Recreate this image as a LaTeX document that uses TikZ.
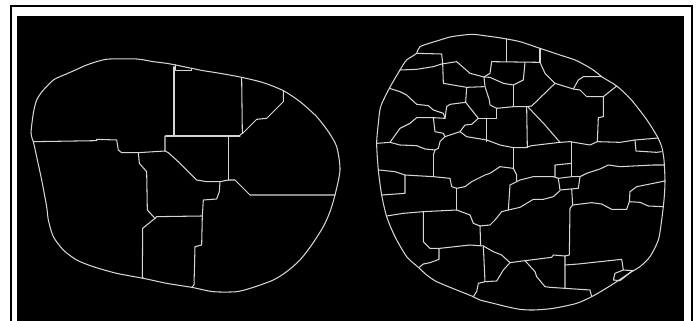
\documentclass[tikz,border=0pt]{standalone}
\definecolor{linegray}{RGB}{214,214,214}
\tikzset{seg/.style={draw=linegray, line width=1.05pt, line join=round, line cap=round},
         outline/.style={draw=linegray, line width=1.05pt, line join=round}}
\begin{document}
\begin{tikzpicture}[x=1pt,y=-1pt]
\useasboundingbox (0,0) rectangle (699,321);
\fill[white] (0,0) rectangle (699,321);
\fill[black] (17,16) rectangle (684,321);
\draw[black, line width=2pt] (11,321) -- (11,6.5) -- (692,6.5) -- (692,321);
% ---------------- left blob (zoom coordinates, 1/3 px) ----------------
\begin{scope}[scale=1/3]
\draw[outline] plot[smooth cycle, tension=0.45] coordinates {
 (215,215) (260,195) (300,182) (330,177) (410,177) (460,185) (500,190) (527,195) (575,205) (610,212)
 (660,220) (725,232) (790,248) (850,272) (900,305) (950,350) (985,395) (1010,440) (1020,510)
 (1005,585) (990,635) (970,680) (935,735) (900,780) (860,815) (820,840) (760,862) (710,875)
 (640,875) (575,862) (500,850) (430,835) (350,820) (280,800) (230,780) (190,750) (160,710)
 (145,660) (140,620) (125,540) (110,470) (100,425) (93,400) (100,340) (110,300) (130,270)
 (160,240) (180,230)};
\draw[seg] (522,200) -- (522,408);
\draw[seg] (527,195) -- (527,212) -- (575,212) -- (575,205);
\draw[seg] (725,232) -- (727,400) -- (720,405);
\draw[seg] (497,408) -- (720,408);
\draw[seg] (850,272) -- (850,305) -- (800,355) -- (770,358) -- (728,400);
\draw[seg] (100,425) -- (290,422) -- (290,418) -- (350,420) -- (355,450) -- (365,458) -- (415,458) -- (495,453) -- (495,408);
\draw[seg] (685,408) -- (685,540);
\draw[seg] (495,453) -- (505,458) -- (540,490) -- (590,540) -- (620,545) -- (660,545) -- (685,540) -- (705,540) -- (750,585) -- (1005,585);
\draw[seg] (415,458) -- (418,490) -- (440,515) -- (442,630) -- (465,655) -- (470,650) -- (605,648);
\draw[seg] (660,545) -- (658,575) -- (650,597) -- (610,600) -- (607,648) -- (605,735) -- (585,740) -- (582,855) -- (575,862);
\draw[seg] (465,655) -- (428,685) -- (427,830) -- (430,835);
\end{scope}
% ---------------- right blob ----------------
\begin{scope}[shift={(360,0)},scale=1/3]
\draw[outline] plot[smooth cycle, tension=0.45] coordinates {
 (335,103) (380,108) (410,112) (440,117) (480,125) (540,145) (600,165) (650,182) (700,210)
 (725,230) (770,258) (810,295) (850,345) (872,377) (892,410) (905,440) (912,480) (915,545) (912,600)
 (905,660) (895,720) (870,770) (840,800) (815,815) (770,845) (730,870) (695,890) (650,910)
 (580,925) (520,930) (480,928) (440,920) (400,910) (360,900) (335,888) (290,870) (230,845)
 (200,825) (175,802) (140,770) (105,710) (80,650) (65,585) (55,510) (50,430) (55,370)
 (62,320) (88,265) (120,210) (140,180) (170,160) (180,140) (240,120) (275,110)};
\draw[seg] (170,160) -- (245,162) -- (248,190) -- (250,250) -- (320,262) -- (372,260);
\draw[seg] (320,262) -- (317,307);
\draw[seg] (120,210) -- (170,208) -- (220,200) -- (245,192) -- (290,185) -- (330,220) -- (372,231) -- (390,232) -- (430,250) -- (460,255) -- (490,240) -- (495,187);
\draw[seg] (440,117) -- (440,185);
\draw[seg] (540,145) -- (540,187);
\draw[seg] (395,185) -- (540,187);
\draw[seg] (395,185) -- (390,220) -- (372,231);
\draw[seg] (372,231) -- (375,260) -- (388,300) -- (390,315) -- (410,325);
\draw[seg] (460,255) -- (460,320);
\draw[seg] (410,325) -- (460,320) -- (500,320);
\draw[seg] (410,325) -- (410,355) -- (380,355) -- (355,355);
\draw[seg] (380,355) -- (380,425);
\draw[seg] (540,187) -- (555,220) -- (585,250) -- (640,267) -- (660,270) -- (680,290) -- (730,290) -- (770,258);
\draw[seg] (640,267) -- (655,240) -- (670,230) -- (725,230);
\draw[seg] (730,290) -- (730,350) -- (715,353) -- (712,425);
\draw[seg] (585,250) -- (515,318) -- (500,320);
\draw[seg] (505,322) -- (555,375) -- (600,427);
\draw[seg] (500,320) -- (502,443);
\draw[seg] (495,443) -- (515,437) -- (600,427) -- (630,425) -- (660,430) -- (690,435) -- (712,425) -- (780,427) -- (825,420) -- (860,417) -- (895,414);
\draw[seg] (825,420) -- (828,453) -- (890,457) -- (904,455);
\draw[seg] (635,425) -- (635,530);
\draw[seg] (585,530) -- (585,495) -- (635,490);
\draw[seg] (660,530) -- (680,520) -- (720,507) -- (745,495) -- (780,500) -- (820,498) -- (880,495) -- (912,495);
\draw[seg] (470,545) -- (480,540) -- (520,530) -- (580,530) -- (595,535) -- (635,530) -- (660,530);
\draw[seg] (595,535) -- (600,570) -- (655,565) -- (660,530);
\draw[seg] (600,572) -- (580,590) -- (550,598) -- (520,598) -- (500,610) -- (480,622) -- (445,630) -- (425,635) -- (405,660) -- (390,675) -- (360,678);
\draw[seg] (635,567) -- (638,615) -- (630,625) -- (628,765) -- (615,768) -- (615,865);
\draw[seg] (638,615) -- (695,608) -- (725,612) -- (755,628) -- (800,628) -- (808,605) -- (840,607) -- (865,618) -- (910,620);
\draw[seg] (808,605) -- (810,575) -- (830,560) -- (880,550) -- (914,543);
\draw[seg] (450,788) -- (495,782) -- (575,772) -- (580,765) -- (615,768);
\draw[seg] (495,782) -- (525,815) -- (530,830) -- (555,860) -- (570,862) -- (615,865) -- (690,870) -- (695,890);
\draw[seg] (615,795) -- (655,792) -- (720,785) -- (785,778) -- (790,810) -- (818,812);
\draw[seg] (790,810) -- (765,820) -- (760,840) -- (780,842) -- (818,812);
\draw[seg] (57,510) -- (105,515) -- (135,525) -- (135,580) -- (65,585);
\draw[seg] (135,525) -- (220,530) -- (270,535) -- (275,560) -- (290,565);
\draw[seg] (220,465) -- (220,530);
\draw[seg] (290,565) -- (290,630);
\draw[seg] (290,565) -- (315,560) -- (335,545) -- (375,525) -- (390,520) -- (420,500) -- (460,505) -- (470,525) -- (470,545) -- (450,555) -- (445,630);
\draw[seg] (460,443) -- (460,505);
\draw[seg] (80,648) -- (130,640) -- (190,635) -- (290,630) -- (330,645) -- (340,670) -- (360,678);
\draw[seg] (190,635) -- (190,725) -- (210,745) -- (240,745) -- (330,735) -- (370,738);
\draw[seg] (360,678) -- (362,737);
\draw[seg] (237,745) -- (237,778) -- (210,788) -- (190,792) -- (178,802);
\draw[seg] (370,738) -- (375,845);
\draw[seg] (370,738) -- (400,755) -- (425,765) -- (450,788);
\draw[seg] (450,788) -- (430,810) -- (410,843) -- (375,845) -- (355,850) -- (350,875) -- (340,890);
\draw[seg] (50,430) -- (90,427) -- (120,435) -- (170,437) -- (195,447) -- (225,450);
\draw[seg] (90,427) -- (120,385) -- (150,370) -- (170,353) -- (220,353) -- (225,395) -- (250,400) -- (255,410);
\draw[seg] (220,353) -- (255,355);
\draw[seg] (88,265) -- (120,275) -- (140,285) -- (170,313) -- (205,317) -- (220,330) -- (250,340) -- (255,355);
\draw[seg] (255,355) -- (260,320) -- (270,313) -- (317,307) -- (355,355);
\draw[seg] (255,410) -- (300,395) -- (315,375) -- (335,373) -- (355,355);
\draw[seg] (300,395) -- (320,410) -- (350,415) -- (380,420) -- (420,435) -- (460,443) -- (495,443);
\draw[seg] (255,410) -- (240,425) -- (235,445) -- (225,450) -- (220,465);
\end{scope}
\end{tikzpicture}
\end{document}
